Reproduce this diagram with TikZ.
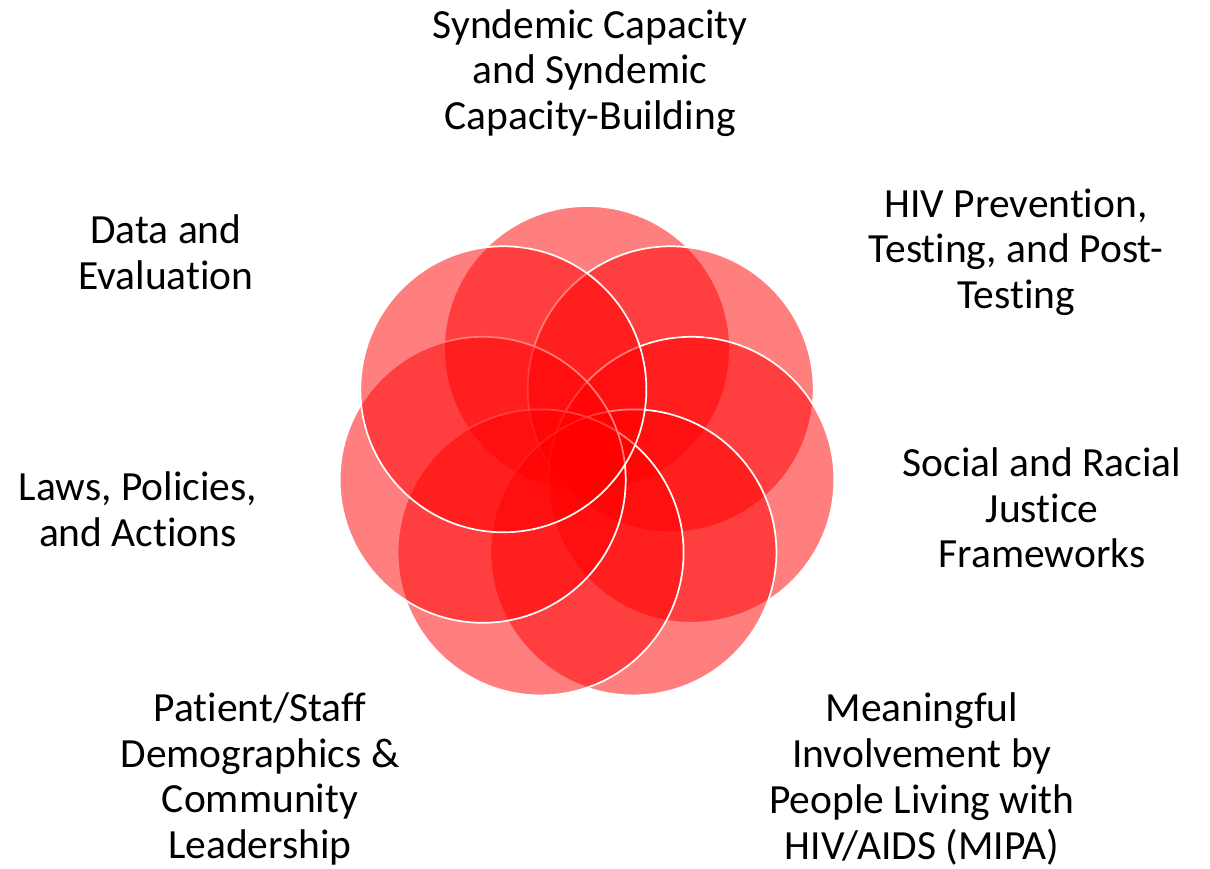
\documentclass[tikz,border=0pt]{standalone}
\usepackage{fontspec}
\setmainfont{Carlito}[Ligatures={NoCommon,NoContextual},Contextuals=NoAlternate]
\newcommand\tiNoLig{t\kern0pt i}
\begin{document}
\begin{tikzpicture}[x=1pt,y=-1pt,
  petal/.style={circle, minimum size=286pt, inner sep=0pt, fill=red, fill opacity=0.5, draw=white, draw opacity=1, line width=1.7pt},
  lbl/.style={align=center, inner sep=0pt, text=black, font=\fontsize{41.5}{45.7}\selectfont}]
\useasboundingbox (0,0) rectangle (1210,869);
\fill[white] (0,0) rectangle (1210,869);
\coordinate (c) at (587,456);
\foreach \k in {0,...,6}{
  \node[petal] (p\k) at ([shift={(-90+\k*51.4286:107)}]c) {};
}
\node[lbl] (t1) at (590,73) {Syndemic Capacity\\and Syndemic\\Capacity-Building};
\node[lbl] (t2) at (1016,252) {HIV Preven\tiNoLig on,\\Testing, and Post-\\Testing};
\node[lbl] (t3) at (1042,508) {Social and Racial\\Jus\tiNoLig ce\\Frameworks};
\node[lbl] (t4) at (922,779) {Meaningful\\Involvement by\\People Living with\\HIV/AIDS (MIPA)};
\node[lbl] (t5) at (260,779) {Patient/Staff\\Demographics \&\\Community\\Leadership};
\node[lbl] (t6) at (138,509) {Laws, Policies,\\and Ac\tiNoLig ons};
\node[lbl] (t7) at (166,252) {Data and\\Evalua\tiNoLig on};
\end{tikzpicture}
\end{document}
